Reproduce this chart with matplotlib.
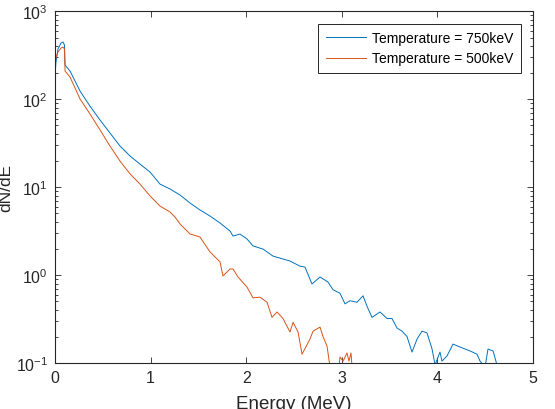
import matplotlib
matplotlib.use("Agg")
import matplotlib.pyplot as plt
from matplotlib.ticker import LogLocator, NullFormatter

plt.rcParams['font.family'] = ['Liberation Sans', 'DejaVu Sans']

# spectrum: Temperature = 750keV
energy_750 = [0.0, 0.005, 0.010, 0.031, 0.063, 0.084, 0.099, 0.105, 0.157, 0.262,
              0.366, 0.471, 0.575, 0.680, 0.785, 0.889, 0.994, 1.098, 1.203, 1.308,
              1.412, 1.517, 1.621, 1.726, 1.831, 1.862, 1.935, 2.008, 2.071, 2.176,
              2.280, 2.385, 2.458, 2.563, 2.615, 2.688, 2.772, 2.856, 2.908, 2.981,
              3.033, 3.086, 3.159, 3.222, 3.264, 3.316, 3.400, 3.473, 3.525, 3.577,
              3.630, 3.682, 3.734, 3.787, 3.839, 3.891, 3.944, 3.975, 4.027, 4.048,
              4.100, 4.163, 4.236, 4.341, 4.414, 4.446, 4.498, 4.529, 4.582, 4.623,
              4.650]
dnde_750 = [200, 219, 263, 370, 433, 444, 411, 243, 208, 123,
            83, 57.7, 41.1, 29.2, 22.5, 18.2, 14.8, 10.8, 9.49, 8.11,
            6.58, 5.48, 4.68, 3.90, 3.16, 2.77, 2.92, 2.57, 2.14, 1.97,
            1.64, 1.52, 1.44, 1.26, 1.23, 0.79, 0.95, 0.83, 0.68, 0.62,
            0.47, 0.51, 0.49, 0.58, 0.44, 0.33, 0.38, 0.32, 0.32, 0.25,
            0.23, 0.20, 0.133, 0.187, 0.23, 0.22, 0.144, 0.095, 0.133, 0.105,
            0.12, 0.164, 0.152, 0.137, 0.126, 0.105, 0.09, 0.144, 0.137, 0.095,
            0.08]

# spectrum: Temperature = 500keV
energy_500 = [0.0, 0.005, 0.031, 0.063, 0.084, 0.099, 0.105, 0.157, 0.262, 0.366,
              0.471, 0.575, 0.680, 0.785, 0.889, 0.994, 1.098, 1.203, 1.255, 1.308,
              1.412, 1.517, 1.621, 1.726, 1.757, 1.831, 1.862, 1.914, 2.008, 2.071,
              2.144, 2.218, 2.270, 2.322, 2.385, 2.458, 2.490, 2.542, 2.584, 2.667,
              2.699, 2.772, 2.803, 2.845, 2.877, 2.890, 2.960, 2.981, 3.013, 3.054,
              3.075, 3.096, 3.107]
dnde_500 = [123, 285, 342, 380, 390, 370, 208, 178, 100, 67.6,
            44.5, 29.2, 19.7, 14.1, 10.8, 7.91, 6.08, 5.20, 4.56, 3.80,
            2.93, 2.70, 1.83, 1.41, 0.975, 1.17, 1.17, 0.95, 0.73, 0.55,
            0.56, 0.49, 0.33, 0.38, 0.32, 0.225, 0.29, 0.225, 0.126, 0.187,
            0.23, 0.256, 0.20, 0.156, 0.09, 0.07, 0.07, 0.117, 0.105, 0.13,
            0.105, 0.13, 0.09]

labels = ['Temperature = 750keV', 'Temperature = 500keV']
colors = ['#0072BD', '#D95319']

fig = plt.figure(figsize=(5.55, 4.10), dpi=100)
ax = fig.add_axes([0.0991, 0.1122, 0.8613, 0.8585])

ax.plot(energy_750, dnde_750, color=colors[0], lw=0.7, label=labels[0])
ax.plot(energy_500, dnde_500, color=colors[1], lw=0.7, label=labels[1])

ax.set_yscale('log')
ax.set_xlim(0, 5)
ax.set_ylim(0.1, 1000)
ax.set_xticks([0, 1, 2, 3, 4, 5])
ax.yaxis.set_minor_locator(LogLocator(base=10, subs=range(2, 10)))
ax.yaxis.set_minor_formatter(NullFormatter())

ax.tick_params(which='both', direction='in', top=True, right=True,
               labelsize=11.5, colors='#262626', width=0.6)
ax.tick_params(which='major', length=4, pad=5)
ax.tick_params(which='minor', length=2)
for s in ax.spines.values():
    s.set_color('#262626')
    s.set_linewidth(0.8)

ax.set_xlabel('Energy (MeV)', fontsize=13.5, color='#262626', labelpad=7)
ax.set_ylabel('dN/dE', fontsize=12.5, color='#262626', labelpad=2)

leg = ax.legend(loc='upper right', fontsize=10, fancybox=False, framealpha=1,
                edgecolor='#262626', handlelength=2.9, borderaxespad=0.9,
                handletextpad=0.4, labelspacing=0.45, borderpad=0.55)
leg.get_frame().set_linewidth(0.7)

plt.savefig('out.png', dpi=100)
